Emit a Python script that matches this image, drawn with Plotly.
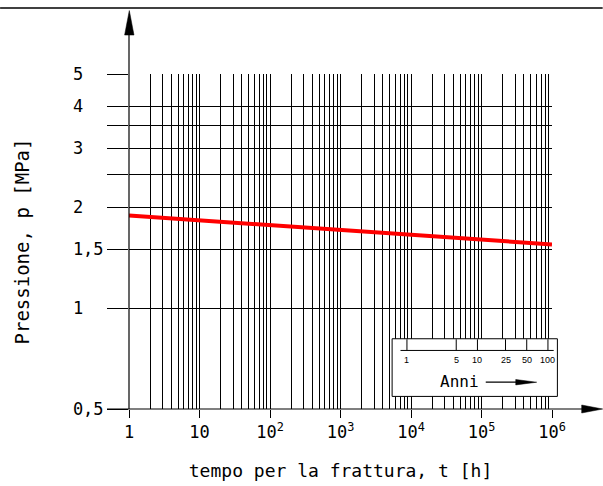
import math
import plotly.graph_objects as go

# ---- data ----
t_hours = [1, 10, 100, 1000, 10000, 100000, 1000000]
pressure_mpa = [1.89, 1.83, 1.77, 1.71, 1.66, 1.61, 1.55]

x_tick_vals = [1, 10, 100, 1000, 10000, 100000, 1000000]
x_tick_text = ["1", "10", "10<sup>2</sup>", "10<sup>3</sup>", "10<sup>4</sup>",
               "10<sup>5</sup>", "10<sup>6</sup>"]
y_tick_vals = [0.5, 1, 1.5, 2, 2.5, 3, 3.5, 4, 5]
y_tick_text = ["0,5", "1", "1,5", "2", "", "3", "", "4", "5"]

years = [1, 5, 10, 25, 50, 100]
year_labels = ["1", "5", "10", "25", "50", "100"]
HOURS_PER_YEAR = 8760

# ---- layout geometry (pixels) ----
W, H = 603, 486
PL, PR, PT, PB = 129, 552.3, 74, 409.3


def fx(px):
    return (px - PL) / (PR - PL)


def fy(py):
    return (PB - py) / (PB - PT)


FONT = "DejaVu Sans Mono"
BLACK = "#000000"
NBSP = "\u00a0"

# left-aligned look for y tick labels (monospace padding)
pad = max(len(s) for s in y_tick_text)
y_tick_text_padded = [s + NBSP * (pad - len(s)) if s else "" for s in y_tick_text]

fig = go.Figure()
fig.add_trace(go.Scatter(
    x=t_hours, y=pressure_mpa, mode="lines",
    line=dict(color="#ff0000", width=4),
    showlegend=False, hoverinfo="skip"))

shapes = []
# top rule
shapes.append(dict(type="line", xref="paper", yref="paper",
                   x0=fx(0), x1=fx(603), y0=fy(8), y1=fy(8),
                   line=dict(color=BLACK, width=1.5)))
# y axis line + arrow
shapes.append(dict(type="line", xref="paper", yref="paper",
                   x0=0, x1=0, y0=0, y1=fy(30),
                   line=dict(color=BLACK, width=1.2)))
shapes.append(dict(type="path", xref="paper", yref="paper",
                   path=f"M {fx(129.3)} {fy(10.5)} L {fx(124.6)} {fy(35)} L {fx(134)} {fy(35)} Z",
                   fillcolor=BLACK, line=dict(color=BLACK, width=0.5)))
# x axis line + arrow
shapes.append(dict(type="line", xref="paper", yref="paper",
                   x0=fx(107), x1=fx(585), y0=0, y1=0,
                   line=dict(color=BLACK, width=1.2)))
shapes.append(dict(type="path", xref="paper", yref="paper",
                   path=f"M {fx(603)} {fy(409.3)} L {fx(582)} {fy(405.3)} L {fx(582)} {fy(413.3)} Z",
                   fillcolor=BLACK, line=dict(color=BLACK, width=0.5)))
# inset box
shapes.append(dict(type="rect", xref="paper", yref="paper",
                   x0=fx(392.3), x1=fx(557.7), y0=fy(396.7), y1=fy(339),
                   fillcolor="white", line=dict(color=BLACK, width=1), layer="above"))
# inset scale line
shapes.append(dict(type="line", xref="paper", yref="paper",
                   x0=fx(400.7), x1=fx(554), y0=fy(350.7), y1=fy(350.7),
                   line=dict(color=BLACK, width=1)))
# inset ticks at year positions (hours on the x axis)
for yr in years:
    shapes.append(dict(type="line", xref="x", yref="paper",
                       x0=yr * HOURS_PER_YEAR, x1=yr * HOURS_PER_YEAR,
                       y0=fy(350.7), y1=fy(339.5),
                       line=dict(color=BLACK, width=1)))
# "Anni" arrow
shapes.append(dict(type="line", xref="paper", yref="paper",
                   x0=fx(486), x1=fx(518), y0=fy(382.5), y1=fy(382.5),
                   line=dict(color=BLACK, width=1.2)))
shapes.append(dict(type="path", xref="paper", yref="paper",
                   path=f"M {fx(537)} {fy(382.5)} L {fx(516)} {fy(379.8)} L {fx(516)} {fy(385.2)} Z",
                   fillcolor=BLACK, line=dict(color=BLACK, width=0.5)))

annotations = []
for yr, lab in zip(years, year_labels):
    annotations.append(dict(x=math.log10(yr * HOURS_PER_YEAR), xref="x",
                            y=fy(360), yref="paper", text=lab, showarrow=False,
                            font=dict(family="Liberation Sans", size=9, color=BLACK),
                            xanchor="center", yanchor="middle"))
annotations.append(dict(x=fx(460), xref="paper", y=fy(382), yref="paper",
                        text="Anni", showarrow=False,
                        font=dict(family=FONT, size=16, color=BLACK),
                        xanchor="center", yanchor="middle"))

fig.update_layout(
    width=W, height=H,
    margin=dict(l=PL, r=W - PR, t=PT, b=H - PB, autoexpand=False),
    paper_bgcolor="white", plot_bgcolor="white",
    shapes=shapes, annotations=annotations,
    xaxis=dict(
        type="log", range=[0, 6],
        tickmode="array", tickvals=x_tick_vals, ticktext=x_tick_text,
        ticks="outside", ticklen=8, tickwidth=1, tickcolor=BLACK,
        showgrid=True, gridcolor=BLACK, gridwidth=1,
        minor=dict(dtick="D1", showgrid=True, gridcolor=BLACK, gridwidth=1, ticks=""),
        showline=False, zeroline=False,
        tickfont=dict(family=FONT, size=17, color=BLACK),
        title=dict(text="tempo per la frattura, t [h]",
                   font=dict(family=FONT, size=18, color=BLACK), standoff=22),
        automargin=False,
    ),
    yaxis=dict(
        type="log", range=[math.log10(0.5), math.log10(5)],
        tickmode="array", tickvals=y_tick_vals, ticktext=y_tick_text_padded,
        ticks="outside", ticklen=21, tickwidth=1, tickcolor=BLACK,
        showgrid=True, gridcolor=BLACK, gridwidth=1,
        showline=False, zeroline=False,
        tickfont=dict(family=FONT, size=17, color=BLACK),
        title=dict(text="Pressione, p [MPa]",
                   font=dict(family=FONT, size=19, color=BLACK), standoff=38),
        automargin=False,
    ),
)

fig.write_html("out.html",
               config={"displayModeBar": False},
               post_script="document.body.style.margin='0px';document.body.style.padding='0px';")
